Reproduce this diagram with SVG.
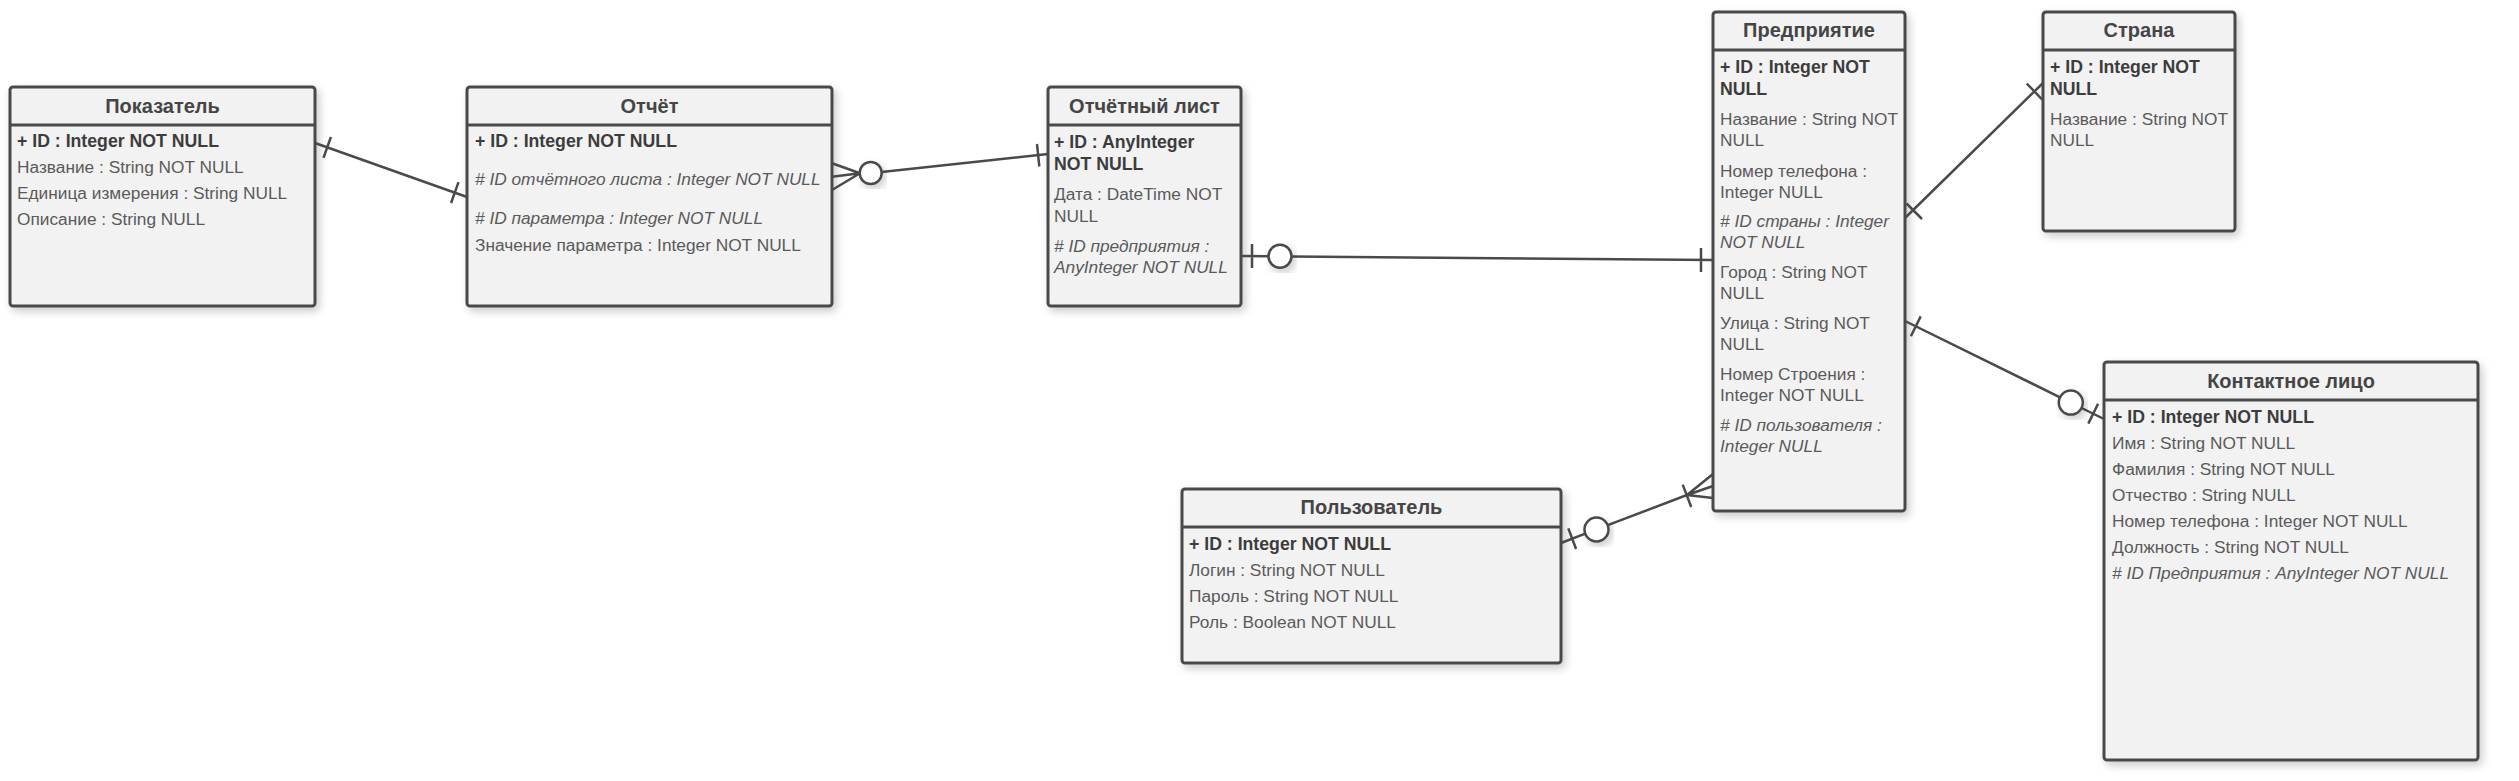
<svg xmlns="http://www.w3.org/2000/svg" width="2519" height="781" viewBox="0 0 2519 781">
<defs>
<filter id="sh" x="-10%" y="-10%" width="130%" height="130%">
<feDropShadow dx="3" dy="4" stdDeviation="4" flood-color="#000" flood-opacity="0.2"/>
</filter>
<style>
.box{fill:#f2f2f2;stroke:#4a4a4a;stroke-width:3;filter:url(#sh)}
.sep{stroke:#4a4a4a;stroke-width:3}
text{font-family:"Liberation Sans",Arial,sans-serif}
.title{font-size:20px;font-weight:bold;fill:#454545;text-anchor:middle}
.pk{font-size:17.7px;font-weight:bold;fill:#3c3c3c}
.at{font-size:17.3px;fill:#5a5a5a}
.fk{font-size:17.3px;font-style:italic;fill:#5a5a5a}
.conn{stroke:#4a4a4a;stroke-width:2.5;fill:none}
.circ{fill:#fff;stroke:#4a4a4a;stroke-width:2.5;filter:url(#sh)}
</style>
</defs>
<rect width="2519" height="781" fill="#fff"/>

<g id="node-pokazatel">
<rect class="box" x="10" y="87" width="305" height="219" rx="3"/>
<line class="sep" x1="10" y1="125" x2="315" y2="125"/>
<text class="title" x="162.5" y="113">Показатель</text>
<text class="pk" x="17" y="147">+ ID : Integer NOT NULL</text>
<text class="at" x="17" y="173">Название : String NOT NULL</text>
<text class="at" x="17" y="199">Единица измерения : String NULL</text>
<text class="at" x="17" y="225">Описание : String NULL</text>
</g>

<g id="node-otchet">
<rect class="box" x="467" y="87" width="365" height="219" rx="3"/>
<line class="sep" x1="467" y1="125" x2="832" y2="125"/>
<text class="title" x="649.5" y="113">Отчёт</text>
<text class="pk" x="475" y="147">+ ID : Integer NOT NULL</text>
<text class="fk" x="475" y="185"># ID отчётного листа : Integer NOT NULL</text>
<text class="fk" x="475" y="224"># ID параметра : Integer NOT NULL</text>
<text class="at" x="475" y="251">Значение параметра : Integer NOT NULL</text>
</g>

<g id="node-otchetny-list">
<rect class="box" x="1048" y="87" width="193" height="219" rx="3"/>
<line class="sep" x1="1048" y1="125" x2="1241" y2="125"/>
<text class="title" x="1144.5" y="113">Отчётный лист</text>
<text class="pk" x="1054" y="148">+ ID : AnyInteger</text>
<text class="pk" x="1054" y="170">NOT NULL</text>
<text class="at" x="1054" y="200">Дата : DateTime NOT</text>
<text class="at" x="1054" y="222">NULL</text>
<text class="fk" x="1054" y="252"># ID предприятия :</text>
<text class="fk" x="1054" y="273">AnyInteger NOT NULL</text>
</g>

<g id="node-predpriyatie">
<rect class="box" x="1713" y="12" width="192" height="499" rx="3"/>
<line class="sep" x1="1713" y1="50" x2="1905" y2="50"/>
<text class="title" x="1809" y="37">Предприятие</text>
<text class="pk" x="1720" y="73">+ ID : Integer NOT</text>
<text class="pk" x="1720" y="95">NULL</text>
<text class="at" x="1720" y="125">Название : String NOT</text>
<text class="at" x="1720" y="146">NULL</text>
<text class="at" x="1720" y="177">Номер телефона :</text>
<text class="at" x="1720" y="198">Integer NULL</text>
<text class="fk" x="1720" y="227"># ID страны : Integer</text>
<text class="fk" x="1720" y="248">NOT NULL</text>
<text class="at" x="1720" y="278">Город : String NOT</text>
<text class="at" x="1720" y="299">NULL</text>
<text class="at" x="1720" y="329">Улица : String NOT</text>
<text class="at" x="1720" y="350">NULL</text>
<text class="at" x="1720" y="380">Номер Строения :</text>
<text class="at" x="1720" y="401">Integer NOT NULL</text>
<text class="fk" x="1720" y="431"># ID пользователя :</text>
<text class="fk" x="1720" y="452">Integer NULL</text>
</g>

<g id="node-strana">
<rect class="box" x="2043" y="12" width="192" height="219" rx="3"/>
<line class="sep" x1="2043" y1="50" x2="2235" y2="50"/>
<text class="title" x="2139" y="37">Страна</text>
<text class="pk" x="2050" y="73">+ ID : Integer NOT</text>
<text class="pk" x="2050" y="95">NULL</text>
<text class="at" x="2050" y="125">Название : String NOT</text>
<text class="at" x="2050" y="146">NULL</text>
</g>

<g id="node-polzovatel">
<rect class="box" x="1182" y="489" width="379" height="174" rx="3"/>
<line class="sep" x1="1182" y1="527" x2="1561" y2="527"/>
<text class="title" x="1371.5" y="514">Пользователь</text>
<text class="pk" x="1189" y="550">+ ID : Integer NOT NULL</text>
<text class="at" x="1189" y="576">Логин : String NOT NULL</text>
<text class="at" x="1189" y="602">Пароль : String NOT NULL</text>
<text class="at" x="1189" y="628">Роль : Boolean NOT NULL</text>
</g>

<g id="node-kontaktnoe-litso">
<rect class="box" x="2104" y="362" width="374" height="398" rx="3"/>
<line class="sep" x1="2104" y1="400" x2="2478" y2="400"/>
<text class="title" x="2291" y="388">Контактное лицо</text>
<text class="pk" x="2112" y="423">+ ID : Integer NOT NULL</text>
<text class="at" x="2112" y="449">Имя : String NOT NULL</text>
<text class="at" x="2112" y="475">Фамилия : String NOT NULL</text>
<text class="at" x="2112" y="501">Отчество : String NULL</text>
<text class="at" x="2112" y="527">Номер телефона : Integer NOT NULL</text>
<text class="at" x="2112" y="553">Должность : String NOT NULL</text>
<text class="fk" x="2112" y="579"># ID Предприятия : AnyInteger NOT NULL</text>
</g>

<g id="connectors">
<path class="conn" d="M315,143 L467,197 M330.9,137 L323.5,157.8 M458.5,182.2 L451.1,203"/>
<path class="conn" d="M832,163.3 L860,173.3 M832,176.7 L860,173.3 M832,190 L860,173.3 M881.6,171.9 L1048,154 M1037,144 L1039.3,166.5"/>
<circle class="circ" cx="870.7" cy="173" r="11"/>
<path class="conn" d="M1241,256 L1268.5,256.2 M1291.5,256.4 L1713,260 M1252,244 L1252,268 M1701,248 L1701,272"/>
<circle class="circ" cx="1280" cy="256.3" r="11.5"/>
<path class="conn" d="M1905,218 L2043,83 M1906.5,203.5 L1922,219 M2026.7,83.5 L2042,99.3"/>
<path class="conn" d="M1905,321 L2060,397.3 M2081.6,408 L2104,419 M1920.7,316.4 L1910.9,336.2 M2098.1,403.8 L2088.3,423.6"/>
<circle class="circ" cx="2070.8" cy="402.6" r="12"/>
<path class="conn" d="M1561,543 L1585.3,533.7 M1607.8,525.2 L1687,495 M1713,474 L1687,495 M1713,486 L1687,495 M1713,498 L1687,495 M1682.7,484.6 L1691.2,507 M1568.3,528.4 L1576.1,549"/>
<circle class="circ" cx="1596.5" cy="529.5" r="12"/>
</g>
</svg>
